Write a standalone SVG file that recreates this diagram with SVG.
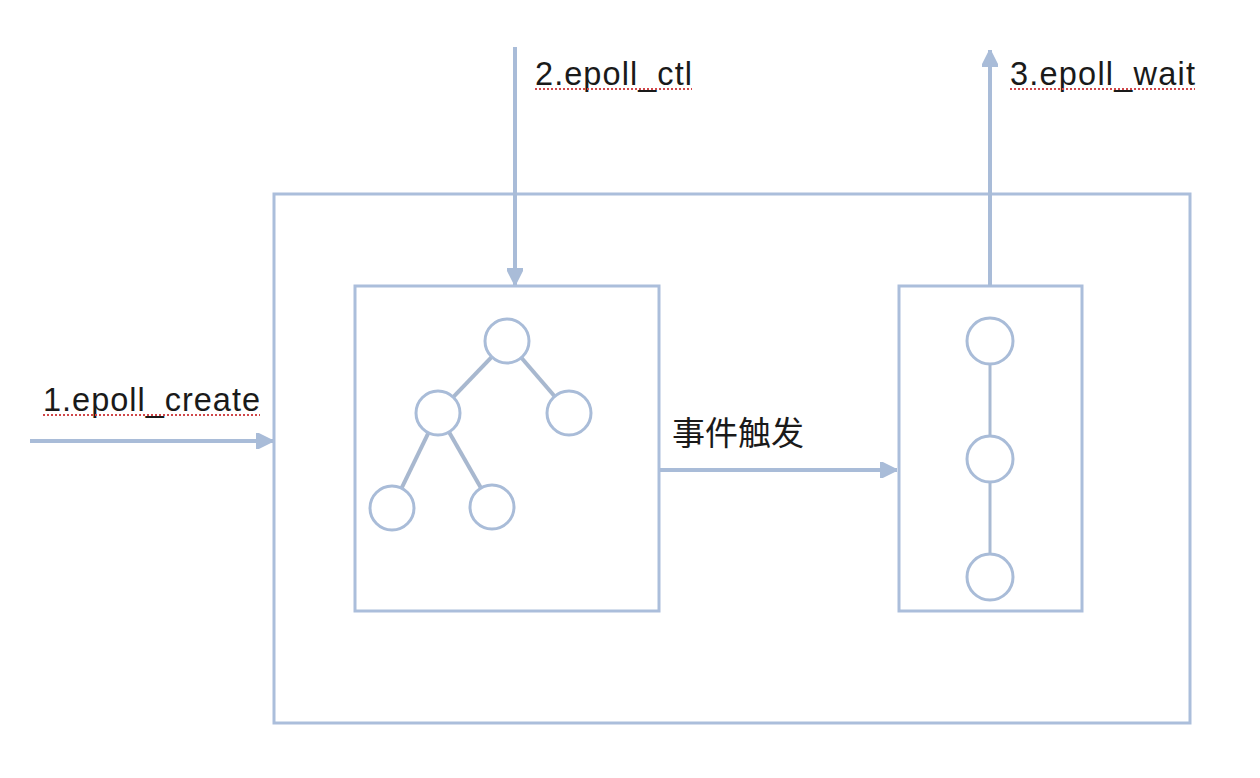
<svg xmlns="http://www.w3.org/2000/svg" width="1260" height="778" viewBox="0 0 1260 778">
<style>
.box{fill:none;stroke:#abbedb;stroke-width:3}
.node{fill:#fff;stroke:#a9bcd8;stroke-width:3}
.edge{stroke:#a8b8cf;stroke-width:4;stroke-linecap:butt}
.chain{stroke:#a9bad3;stroke-width:3}
.conn{stroke:#a9bcd8;stroke-width:4;fill:none}
.lbl{font-family:"Liberation Sans",Arial,sans-serif;font-size:32.5px;fill:#1a1a1a}
.cjk{font-family:"Noto Sans CJK SC","Liberation Sans",sans-serif;font-size:33px;fill:#1a1a1a}
.sq{stroke:#d0474a;stroke-width:2;stroke-dasharray:2 2;fill:none}
</style>
<defs>
<marker id="ah" viewBox="0 0 10 10" refX="10" refY="5" markerWidth="4.2" markerHeight="4.2" orient="auto" markerUnits="strokeWidth">
<path d="M0,0 L10,5 L0,10 Z" fill="#a9bcd8" stroke="#a9bcd8" stroke-width="1" stroke-linejoin="round"/>
</marker>
</defs>
<rect width="1260" height="778" fill="#fff"/>
<g id="epoll-instance">
<rect class="box" x="274" y="194" width="916" height="529"/>
</g>
<g id="rb-tree">
<rect class="box" x="355" y="286" width="304" height="325"/>
<line class="edge" x1="491.8" y1="356.9" x2="453.2" y2="397.1"/>
<line class="edge" x1="521.4" y1="357.7" x2="554.6" y2="396.3"/>
<line class="edge" x1="428.4" y1="432.8" x2="401.6" y2="488.2"/>
<line class="edge" x1="449" y1="432.1" x2="481" y2="487.9"/>
<circle class="node" cx="507" cy="341" r="22"/>
<circle class="node" cx="438" cy="413" r="22"/>
<circle class="node" cx="569" cy="413" r="22"/>
<circle class="node" cx="392" cy="508" r="22"/>
<circle class="node" cx="492" cy="507" r="22"/>
</g>
<g id="ready-list">
<rect class="box" x="899" y="286" width="183" height="325"/>
<line class="chain" x1="990" y1="364" x2="990" y2="437"/>
<line class="chain" x1="990" y1="482" x2="990" y2="555"/>
<circle class="node" cx="990" cy="341" r="23"/>
<circle class="node" cx="990" cy="459" r="23"/>
<circle class="node" cx="990" cy="577" r="23"/>
</g>
<g id="connectors">
<line class="conn" x1="30" y1="441" x2="273" y2="441" marker-end="url(#ah)"/>
<line class="conn" x1="515" y1="47" x2="515" y2="285" marker-end="url(#ah)"/>
<line class="conn" x1="990" y1="286" x2="990" y2="50" marker-end="url(#ah)"/>
<line class="conn" x1="660" y1="470" x2="897" y2="470" marker-end="url(#ah)"/>
</g>
<g id="labels">
<text class="lbl" x="43" y="411" textLength="217" lengthAdjust="spacing">1.epoll_create</text>
<path class="sq" d="M43,415 H260"/>
<text class="lbl" x="535" y="85" textLength="157" lengthAdjust="spacing">2.epoll_ctl</text>
<path class="sq" d="M535,89 H692"/>
<text class="lbl" x="1010" y="85" textLength="185" lengthAdjust="spacing">3.epoll_wait</text>
<path class="sq" d="M1010,89 H1195"/>
<text class="cjk" x="672" y="445">事件触发</text>
</g>
</svg>
